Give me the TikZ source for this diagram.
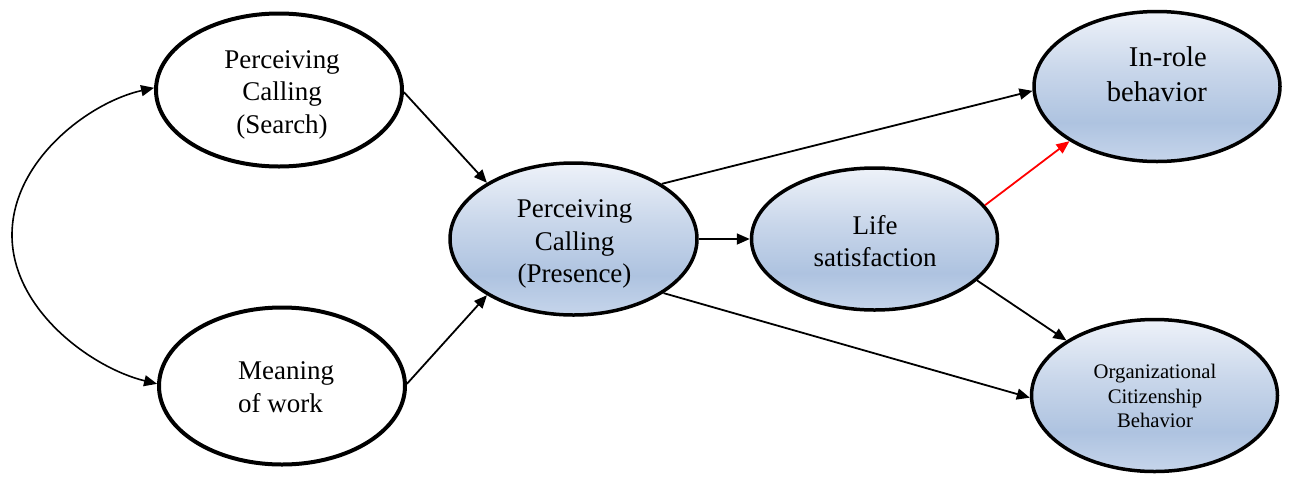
\documentclass[tikz,border=0pt]{standalone}
\usepackage{fontspec}
\setmainfont{Liberation Serif}
\usetikzlibrary{shapes.geometric,arrows.meta}

% light-to-deep blue fill of the outcome ovals
\definecolor{ovTop}{RGB}{238,242,249}
\definecolor{ovMid}{RGB}{200,214,234}
\definecolor{ovDeep}{RGB}{174,195,224}
\definecolor{ovBase}{RGB}{198,213,235}
\pgfdeclareverticalshading{ovalshade}{100bp}{color(0bp)=(ovBase); color(25bp)=(ovBase); color(38bp)=(ovDeep); color(55bp)=(ovMid); color(75bp)=(ovTop); color(100bp)=(ovTop)}

\begin{document}
\begin{tikzpicture}[x=1pt,y=-1pt,
  oval/.style={ellipse, draw, inner sep=0pt, line width=3.5pt},
  plainoval/.style={oval, fill=white, line width=4pt},
  blueoval/.style={oval, shade, shading=ovalshade},
  lbl/.style={align=center, inner sep=0pt, font=\fontsize{27}{32.5}\selectfont},
  link/.style={line width=1.8pt, -{Triangle[length=13pt,width=11pt]}},
  pair/.style={line width=1.6pt, {Triangle[length=13pt,width=11pt]}-{Triangle[length=13pt,width=11pt]}}]
\useasboundingbox (0,0) rectangle (1291,480);

% ovals
\node[plainoval, minimum width=246pt, minimum height=153pt] (search) at (279,90) {};
\node[plainoval, minimum width=246pt, minimum height=157pt] (meaning) at (282,386) {};
\node[blueoval, minimum width=247pt, minimum height=152pt] (presence) at (573.5,239) {};
\node[blueoval, minimum width=246pt, minimum height=142pt] (life) at (874.5,239) {};
\node[blueoval, minimum width=246pt, minimum height=150pt] (inrole) at (1157,86.5) {};
\node[blueoval, minimum width=246pt, minimum height=152pt] (ocb) at (1154.5,395.5) {};

% oval texts
\node[lbl] (searchT) at (282,94.5) {Perceiving\\Calling\\(Search)};
\node[lbl, align=left, anchor=west] (meaningT) at (238,387) {Meaning\\of work};
\node[lbl] (presenceT) at (574.5,244) {Perceiving\\Calling\\(Presence)};
\node[lbl] (lifeT) at (875,241) {Life\\satisfaction};
\node[lbl, align=right, anchor=east, font=\fontsize{28.6}{35}\selectfont] (inroleT) at (1207,74.5) {In-role\\behavior};
\node[lbl, font=\fontsize{20.7}{24.5}\selectfont] (ocbT) at (1155,396) {Organizational\\Citizenship\\Behavior};

% paths
\draw[link] (search.-1) -- (presence.147);
\draw[link] (meaning.1) -- (presence.213);
\draw[link] (presence.32) -- (inrole.182);
\draw[link] (presence.east) -- (life.west);
\draw[link] (presence.-31) -- (ocb.181);
\draw[link] (life.-22) -- (ocb.148);
\draw[link, red] (life.17) -- (inrole.212);

% correlation between the two predictors
\coordinate (bend) at (12,235);
\draw[pair] (search.179) .. controls (90,102) and (12,160) .. (bend)
  .. controls (12,310) and (92,368) .. (meaning.179);
\end{tikzpicture}
\end{document}
